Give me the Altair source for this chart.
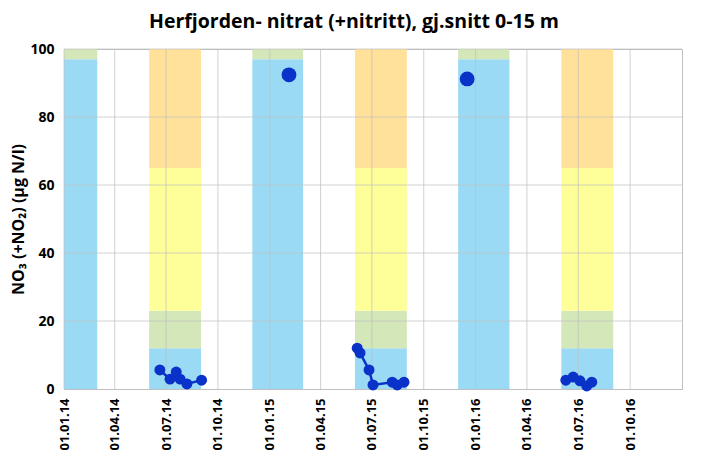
import altair as alt
import pandas as pd

# ---- data ----
winter_start = ["2014-01-01", "2014-12-01", "2015-12-01"]
winter_end = ["2014-03-01", "2015-03-01", "2016-03-01"]
winter_levels = [0, 97, 100]
winter_classes = ["I", "II"]

summer_start = ["2014-06-01", "2015-06-01", "2016-06-01"]
summer_end = ["2014-09-01", "2015-09-01", "2016-09-01"]
summer_levels = [0, 12, 23, 65, 100]
summer_classes = ["I", "II", "III", "IV"]

class_names = ["I", "II", "III", "IV"]
class_colors = ["#9BDAF5", "#D3E7B9", "#FFFF99", "#FFE199"]

dates_2014 = ["2014-06-20", "2014-07-08", "2014-07-19", "2014-07-26", "2014-08-07", "2014-09-02"]
vals_2014 = [5.6, 2.9, 5.0, 2.9, 1.5, 2.6]
dates_2015 = ["2015-06-05", "2015-06-10", "2015-06-26", "2015-07-03", "2015-08-06", "2015-08-15", "2015-08-27"]
vals_2015 = [12.0, 10.6, 5.6, 1.2, 2.0, 1.2, 2.0]
dates_2016 = ["2016-06-09", "2016-06-22", "2016-07-04", "2016-07-16", "2016-07-25"]
vals_2016 = [2.6, 3.5, 2.4, 0.9, 2.0]
winter_dates = ["2015-02-04", "2015-12-17"]
winter_vals = [92.4, 91.2]

quarter_ticks = ["2014-01-01", "2014-04-01", "2014-07-01", "2014-10-01",
                 "2015-01-01", "2015-04-01", "2015-07-01", "2015-10-01",
                 "2016-01-01", "2016-04-01", "2016-07-01", "2016-10-01"]
y_grid = [20, 40, 60, 80, 100]

# ---- tables ----
band_rows = []
for s, e in zip(winter_start, winter_end):
    for i, c in enumerate(winter_classes):
        band_rows.append(dict(start=pd.Timestamp(s), end=pd.Timestamp(e),
                              y0=winter_levels[i], y1=winter_levels[i + 1], cls=c))
for s, e in zip(summer_start, summer_end):
    for i, c in enumerate(summer_classes):
        band_rows.append(dict(start=pd.Timestamp(s), end=pd.Timestamp(e),
                              y0=summer_levels[i], y1=summer_levels[i + 1], cls=c))
bands = pd.DataFrame(band_rows)

pts_rows = []
for g, (ds, vs) in enumerate([(dates_2014, vals_2014), (dates_2015, vals_2015), (dates_2016, vals_2016)]):
    for d, v in zip(ds, vs):
        pts_rows.append(dict(date=pd.Timestamp(d), val=v, grp=str(g)))
pts = pd.DataFrame(pts_rows)
wpts = pd.DataFrame(dict(date=pd.to_datetime(winter_dates), val=winter_vals))

vgrid = pd.DataFrame(dict(date=pd.to_datetime(quarter_ticks)))
hgrid = pd.DataFrame(dict(y=y_grid))

FONT = "Open Sans"
x_scale = alt.Scale(domain=[alt.DateTime(year=2014, month=1, date=1),
                            alt.DateTime(year=2017, month=1, date=1)], nice=False)
y_scale = alt.Scale(domain=[0, 100], nice=False)

tick_vals = [alt.DateTime(year=int(d[:4]), month=int(d[5:7]), date=1) for d in quarter_ticks]

x_axis = alt.Axis(values=tick_vals, format="%d.%m.%y", labelAngle=270, labelAlign="right",
                  labelBaseline="middle", labelPadding=9, ticks=False, grid=False,
                  labelFont=FONT, labelFontSize=13, labelFontWeight="bold", labelColor="#000000",
                  domainColor="#BFBFBF", title=None, labelOverlap=False)
y_axis = alt.Axis(values=[0, 20, 40, 60, 80, 100], ticks=False, grid=False, labelPadding=10,
                  labelFont=FONT, labelFontSize=14, labelFontWeight="bold", labelColor="#000000",
                  domainColor="#BFBFBF", title="NO₃ (+NO₂) (µg N/l)", titleFont=FONT,
                  titleFontSize=16, titleFontWeight="bold", titleColor="#000000", titlePadding=3)

band_layer = alt.Chart(bands).mark_rect().encode(
    x=alt.X("start:T", scale=x_scale, axis=x_axis),
    x2="end:T",
    y=alt.Y("y0:Q", scale=y_scale, axis=y_axis),
    y2="y1:Q",
    color=alt.Color("cls:N", scale=alt.Scale(domain=class_names, range=class_colors), legend=None),
)

vrules = alt.Chart(vgrid).mark_rule(color="#BFBFBF", strokeWidth=1, opacity=0.7).encode(
    x=alt.X("date:T", scale=x_scale)
)
hrules = alt.Chart(hgrid).mark_rule(color="#BFBFBF", strokeWidth=1, opacity=0.7).encode(
    y=alt.Y("y:Q", scale=y_scale)
)

line_layer = alt.Chart(pts).mark_line(color="#0A32C8", strokeWidth=2.5).encode(
    x=alt.X("date:T", scale=x_scale), y=alt.Y("val:Q", scale=y_scale), detail="grp:N"
)
pt_layer = alt.Chart(pts).mark_circle(color="#0A32C8", opacity=1, size=120).encode(
    x=alt.X("date:T", scale=x_scale), y=alt.Y("val:Q", scale=y_scale)
)
wpt_layer = alt.Chart(wpts).mark_circle(color="#0A32C8", opacity=1, size=220).encode(
    x=alt.X("date:T", scale=x_scale), y=alt.Y("val:Q", scale=y_scale)
)

chart = alt.layer(band_layer, vrules, hrules, line_layer, pt_layer, wpt_layer).properties(
    width=618, height=340,
    autosize=alt.AutoSizeParams(type="none"),
    padding={"left": 56, "top": 41, "right": 10, "bottom": 66},
    title=alt.Title("Herfjorden- nitrat (+nitritt), gj.snitt 0-15 m", font=FONT, fontSize=19.5,
                    fontWeight="bold", color="#000000", anchor="middle", offset=10, dx=-19),
).configure_view(stroke="#BFBFBF")

chart.save("out.html", embed_options={"renderer": "svg", "actions": False})
